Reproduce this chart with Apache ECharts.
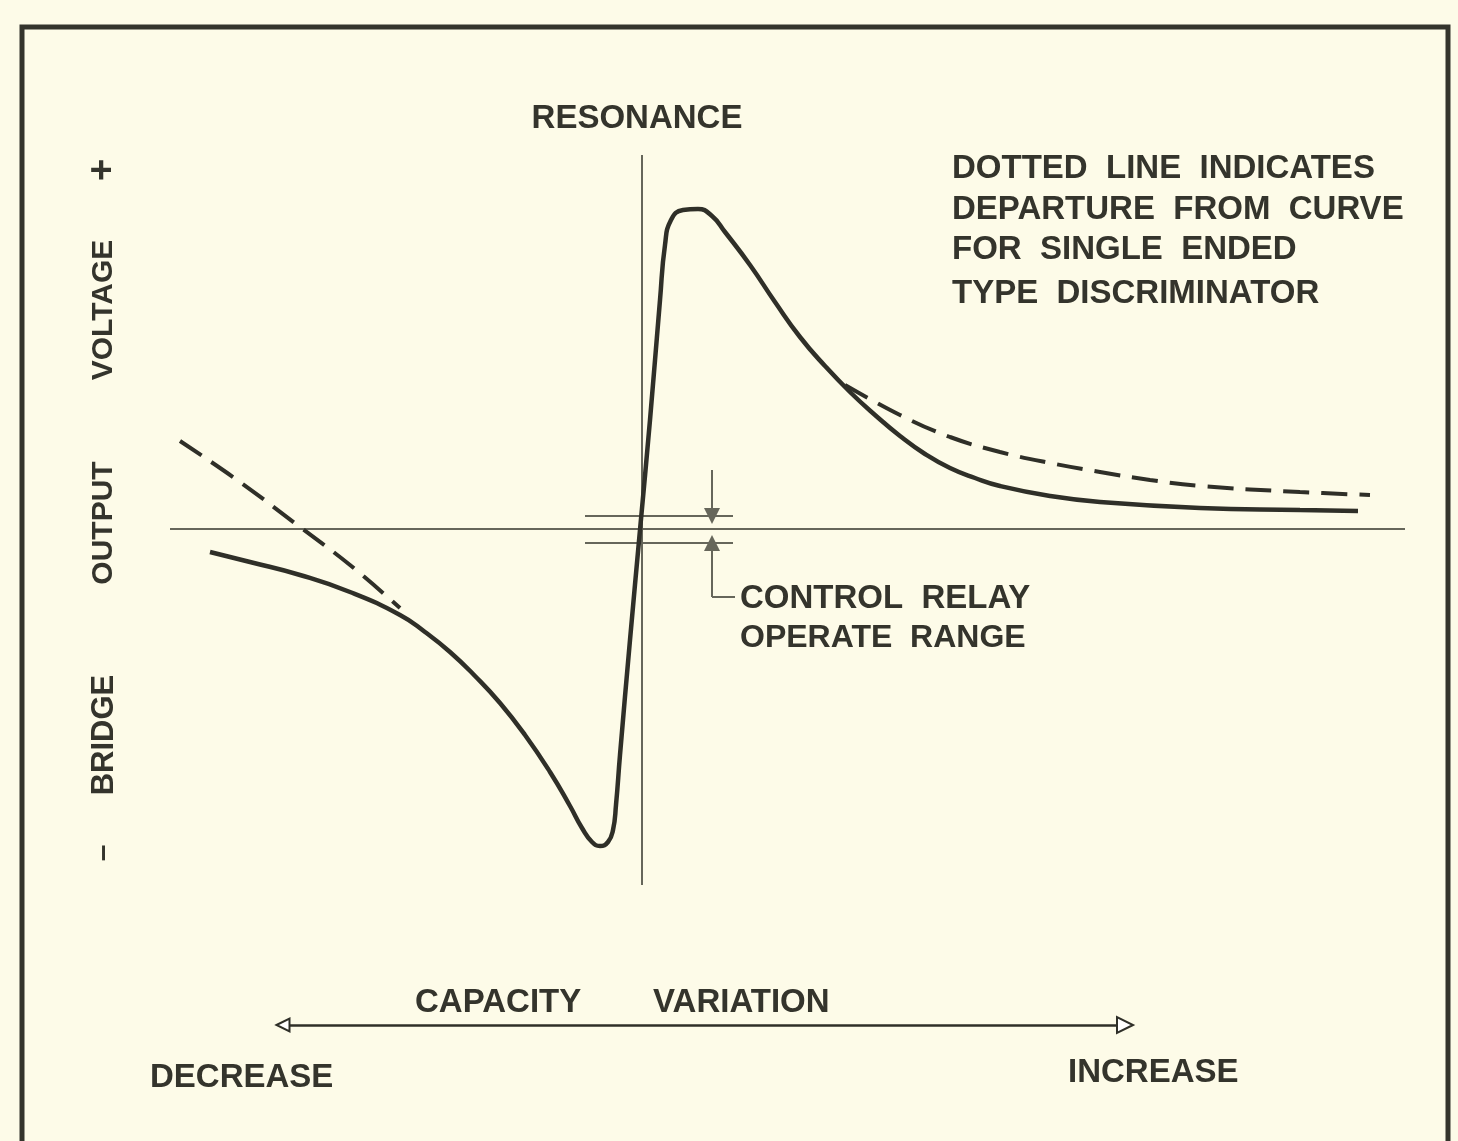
<!DOCTYPE html>
<html>
<head>
<meta charset="utf-8">
<script src="https://cdn.jsdelivr.net/npm/echarts@6/dist/echarts.min.js"></script>
<style>
  html, body { margin: 0; padding: 0; background: #fdfbe8; }
  #chart { width: 1458px; height: 1141px; }
</style>
</head>
<body>
<div id="chart"></div>
<script>
// capacity (x) vs bridge output voltage (y), resonance at x = 0, zero output at y = 0
var solidCurve = [
  [-4.32, -0.23], [-3.92, -0.33], [-3.42, -0.46], [-2.92, -0.63], [-2.42, -0.86],
  [-2.17, -1.03], [-1.92, -1.23], [-1.67, -1.47], [-1.42, -1.74], [-1.17, -2.06],
  [-0.92, -2.43], [-0.72, -2.77], [-0.60, -2.99], [-0.50, -3.13], [-0.42, -3.17],
  [-0.34, -3.13], [-0.29, -3.01], [-0.26, -2.76], [-0.22, -2.26],
  [-0.12, -1.11], [-0.02, -0.01], [0.08, 1.09], [0.18, 2.29], [0.23, 2.84],
  [0.29, 3.09], [0.41, 3.19], [0.56, 3.20], [0.70, 3.13], [0.83, 2.97],
  [1.08, 2.64], [1.33, 2.27], [1.58, 1.92], [1.83, 1.63], [2.08, 1.37],
  [2.33, 1.14], [2.58, 0.93], [2.83, 0.75], [3.08, 0.61], [3.33, 0.51],
  [3.58, 0.43], [4.08, 0.33], [4.58, 0.27], [5.58, 0.21], [6.58, 0.19], [7.16, 0.18]
];
var dottedLeft = [[-4.62, 0.88], [-4.02, 0.47], [-3.42, 0.02], [-2.92, -0.36], [-2.42, -0.79]];
var dottedRight = [
  [2.03, 1.44], [2.58, 1.14], [3.08, 0.92], [3.58, 0.77], [4.08, 0.66],
  [4.58, 0.57], [5.08, 0.49], [5.58, 0.43], [6.58, 0.37], [7.28, 0.34]
];
var zeroLine = [[-4.72, 0], [7.63, 0]];
var resonanceLine = [[0, 3.74], [0, -3.56]];
var relayBand = [0.13, -0.14];       // operate range limits
var relaySpan = [-0.57, 0.91];
var relayArrowX = 0.70;
var capacityArrow = [[-3.59, -4.96], [4.83, -4.96]];

var ink = '#2f2f28';
var thin = '#66665a';
var font = '"Liberation Sans", Arial, sans-serif';

function label(txt, x, y, size, align, rot) {
  return {
    type: 'text', x: x, y: y, rotation: rot || 0,
    style: {
      text: txt, fill: '#34342c', font: 'bold ' + size + 'px ' + font,
      align: align || 'left', verticalAlign: 'middle'
    }
  };
}

var chart = echarts.init(document.getElementById('chart'));
var option = {
  backgroundColor: '#fdfbe8',
  animation: false,
  grid: { left: 0, right: 0, top: 0, bottom: 0 },
  xAxis: { type: 'value', min: -6.42, max: 8.16, show: false },
  yAxis: { type: 'value', min: -6.12, max: 5.29, show: false },
  graphic: [
    { type: 'rect', shape: { x: 22, y: 27, width: 1426, height: 1140 },
      style: { fill: null, stroke: '#34342c', lineWidth: 5 } },
    label('RESONANCE', 637, 119, 33, 'center'),
    label('+', 104, 170, 38, 'center', Math.PI / 2),
    label('VOLTAGE', 104, 310, 30, 'center', Math.PI / 2),
    label('OUTPUT', 104, 523, 30, 'center', Math.PI / 2),
    label('BRIDGE', 104, 735, 31, 'center', Math.PI / 2),
    label('–', 104, 853, 30, 'center', Math.PI / 2),
    label('DOTTED  LINE  INDICATES', 952, 169, 33),
    label('DEPARTURE  FROM  CURVE', 952, 210, 33),
    label('FOR  SINGLE  ENDED', 952, 250, 33),
    label('TYPE  DISCRIMINATOR', 952, 294, 33),
    label('CONTROL  RELAY', 740, 599, 33),
    label('OPERATE  RANGE', 740, 638, 32),
    label('CAPACITY', 415, 1003, 33),
    label('VARIATION', 653, 1003, 33),
    label('DECREASE', 150, 1078, 33),
    label('INCREASE', 1068, 1073, 33)
  ],
  series: [
    {
      type: 'line', data: solidCurve, smooth: 0.5, showSymbol: false,
      lineStyle: { color: ink, width: 4.5 }
    },
    {
      type: 'line', data: dottedLeft, smooth: 0.4, showSymbol: false,
      lineStyle: { color: ink, width: 4, type: [26, 12] }
    },
    {
      type: 'line', data: dottedRight, smooth: 0.4, showSymbol: false,
      lineStyle: { color: ink, width: 4, type: [26, 12] }
    },
    {
      type: 'lines', coordinateSystem: 'cartesian2d',
      lineStyle: { color: thin, width: 2, opacity: 1 },
      data: [
        { coords: zeroLine },
        { coords: resonanceLine },
        { coords: [[relaySpan[0], relayBand[0]], [relaySpan[1], relayBand[0]]] },
        { coords: [[relaySpan[0], relayBand[1]], [relaySpan[1], relayBand[1]]] },
        { coords: [[relayArrowX, relayBand[1] - 0.54], [0.93, relayBand[1] - 0.54]] }
      ]
    },
    {
      type: 'lines', coordinateSystem: 'cartesian2d',
      symbol: ['none', 'triangle'], symbolSize: [10, 16],
      lineStyle: { color: thin, width: 2, opacity: 1 },
      itemStyle: { color: ink },
      data: [
        { coords: [[relayArrowX, relayBand[0] + 0.46], [relayArrowX, relayBand[0]]] },
        { coords: [[relayArrowX, relayBand[1] - 0.54], [relayArrowX, relayBand[1]]] }
      ]
    },
    {
      type: 'lines', coordinateSystem: 'cartesian2d',
      symbol: ['emptyTriangle', 'emptyTriangle'], symbolSize: [13, 16],
      lineStyle: { color: ink, width: 2.5, opacity: 1 },
      data: [{ coords: capacityArrow }]
    }
  ]
};
chart.setOption(option);
</script>
</body>
</html>
